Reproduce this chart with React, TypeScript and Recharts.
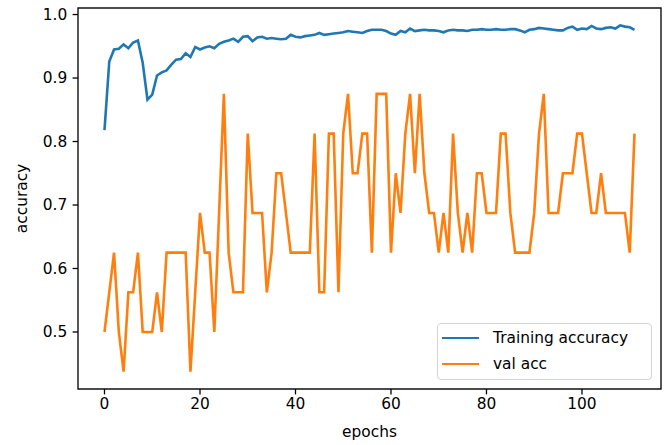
import React from "react";
import {
  LineChart,
  Line,
  XAxis,
  YAxis,
  Legend,
  ReferenceArea,
} from "recharts";

// accuracy per epoch
const trainAcc = [
  0.818, 0.926, 0.945, 0.946, 0.953, 0.947, 0.956, 0.959, 0.924, 0.866,
  0.874, 0.904, 0.909, 0.912, 0.921, 0.929, 0.93, 0.939, 0.933, 0.949,
  0.945, 0.948, 0.95, 0.947, 0.954, 0.957, 0.959, 0.962, 0.957, 0.965,
  0.966, 0.958, 0.964, 0.965, 0.962, 0.963, 0.962, 0.961, 0.962, 0.968,
  0.965, 0.964, 0.966, 0.967, 0.968, 0.971, 0.968, 0.969, 0.97, 0.971,
  0.972, 0.974, 0.973, 0.972, 0.971, 0.974, 0.976, 0.976, 0.976, 0.974,
  0.97, 0.968, 0.974, 0.972, 0.978, 0.974, 0.975, 0.976, 0.975, 0.975,
  0.974, 0.972, 0.975, 0.976, 0.975, 0.975, 0.974, 0.976, 0.976, 0.977,
  0.976, 0.976, 0.977, 0.976, 0.976, 0.977, 0.977, 0.975, 0.972, 0.976,
  0.977, 0.979, 0.978, 0.977, 0.976, 0.975, 0.975, 0.979, 0.981, 0.976,
  0.978, 0.977, 0.982, 0.978, 0.977, 0.979, 0.98, 0.978, 0.983, 0.981,
  0.98, 0.976,
];

const valAcc = [
  0.5, 0.5625, 0.625, 0.5, 0.4375, 0.5625, 0.5625, 0.625, 0.5, 0.5,
  0.5, 0.5625, 0.5, 0.625, 0.625, 0.625, 0.625, 0.625, 0.4375, 0.5625,
  0.6875, 0.625, 0.625, 0.5, 0.6875, 0.875, 0.625, 0.5625, 0.5625, 0.5625,
  0.8125, 0.6875, 0.6875, 0.6875, 0.5625, 0.625, 0.75, 0.75, 0.6875, 0.625,
  0.625, 0.625, 0.625, 0.625, 0.8125, 0.5625, 0.5625, 0.8125, 0.8125, 0.5625,
  0.8125, 0.875, 0.75, 0.75, 0.8125, 0.8125, 0.625, 0.875, 0.875, 0.875,
  0.625, 0.75, 0.6875, 0.8125, 0.875, 0.75, 0.875, 0.75, 0.6875, 0.6875,
  0.625, 0.6875, 0.625, 0.8125, 0.6875, 0.625, 0.6875, 0.625, 0.75, 0.75,
  0.6875, 0.6875, 0.6875, 0.8125, 0.8125, 0.6875, 0.625, 0.625, 0.625, 0.625,
  0.6875, 0.8125, 0.875, 0.6875, 0.6875, 0.6875, 0.75, 0.75, 0.75, 0.8125,
  0.8125, 0.75, 0.6875, 0.6875, 0.75, 0.6875, 0.6875, 0.6875, 0.6875, 0.6875,
  0.625, 0.8125,
];

const xTicks = [0, 20, 40, 60, 80, 100];
const yTicks = [0.5, 0.6, 0.7, 0.8, 0.9, 1.0];

const data = trainAcc.map((t, i) => ({ epoch: i, train: t, val: valAcc[i] }));

const FONT = "'DejaVu Sans', sans-serif";
const FS = 15.4;
const BLUE = "#1f77b4";
const ORANGE = "#ff7f0e";
const X_DOMAIN: [number, number] = [-5.55, 116.55];
const Y_DOMAIN: [number, number] = [0.4102, 1.0103];

const tickStyle = { fill: "#000", fontFamily: FONT, fontSize: FS };

function LegendBox() {
  const rows = [
    { name: "Training accuracy", color: BLUE, y: 14 },
    { name: "val acc", color: ORANGE, y: 40 },
  ];
  return (
    <div
      style={{
        position: "relative",
        width: 215,
        height: 57,
        boxSizing: "border-box",
        border: "1.2px solid #d4d4d4",
        borderRadius: 4,
        background: "#fff",
        fontFamily: FONT,
        fontSize: FS,
        color: "#000",
      }}
    >
      {rows.map((r) => (
        <div key={r.name}>
          <div
            style={{
              position: "absolute",
              left: 4,
              top: r.y - 1.3,
              width: 37,
              height: 2.6,
              background: r.color,
            }}
          />
          <div
            style={{
              position: "absolute",
              left: 55,
              top: r.y - 10,
              lineHeight: "20px",
              whiteSpace: "nowrap",
            }}
          >
            {r.name}
          </div>
        </div>
      ))}
    </div>
  );
}

export default function App() {
  return (
    <div style={{ position: "absolute", left: 0, top: 0, background: "#fff" }}>
      <LineChart
        width={667}
        height={445}
        data={data}
        margin={{ top: 8, right: 6, bottom: 0, left: 0 }}
      >
        <XAxis
          dataKey="epoch"
          type="number"
          domain={X_DOMAIN}
          ticks={xTicks}
          allowDataOverflow
          height={56}
          axisLine={false}
          tickSize={5.4}
          tickMargin={4}
          tickLine={{ stroke: "#000", strokeWidth: 1.3 }}
          tick={tickStyle}
          label={{
            content: (props: any) => {
              const vb = props.viewBox;
              return (
                <text
                  x={vb.x + vb.width / 2}
                  y={437}
                  textAnchor="middle"
                  fontFamily={FONT}
                  fontSize={FS}
                  fill="#000"
                >
                  epochs
                </text>
              );
            },
          }}
        />
        <YAxis
          type="number"
          domain={Y_DOMAIN}
          ticks={yTicks}
          allowDataOverflow
          width={78}
          axisLine={false}
          tickSize={5.4}
          tickMargin={5.4}
          tickLine={{ stroke: "#000", strokeWidth: 1.3 }}
          tick={tickStyle}
          tickFormatter={(v: number) => v.toFixed(1)}
          label={{
            content: (props: any) => {
              const vb = props.viewBox;
              const cy = vb.y + vb.height / 2;
              return (
                <text
                  transform={`translate(27, ${cy}) rotate(-90)`}
                  textAnchor="middle"
                  fontFamily={FONT}
                  fontSize={FS}
                  fill="#000"
                >
                  accuracy
                </text>
              );
            },
          }}
        />
        <Line
          type="linear"
          dataKey="train"
          name="Training accuracy"
          stroke={BLUE}
          strokeWidth={2.6}
          dot={false}
          isAnimationActive={false}
        />
        <Line
          type="linear"
          dataKey="val"
          name="val acc"
          stroke={ORANGE}
          strokeWidth={2.6}
          dot={false}
          isAnimationActive={false}
        />
        <ReferenceArea
          x1={X_DOMAIN[0]}
          x2={X_DOMAIN[1]}
          y1={Y_DOMAIN[0]}
          y2={Y_DOMAIN[1]}
          fill="none"
          stroke="#111"
          strokeWidth={1.4}
          ifOverflow="visible"
        />
        <Legend
          layout="horizontal"
          align="center"
          verticalAlign="middle"
          width={215}
          height={57}
          wrapperStyle={{ left: 437, top: 323, width: 215, height: 57 }}
          content={() => <LegendBox />}
        />
      </LineChart>
    </div>
  );
}
